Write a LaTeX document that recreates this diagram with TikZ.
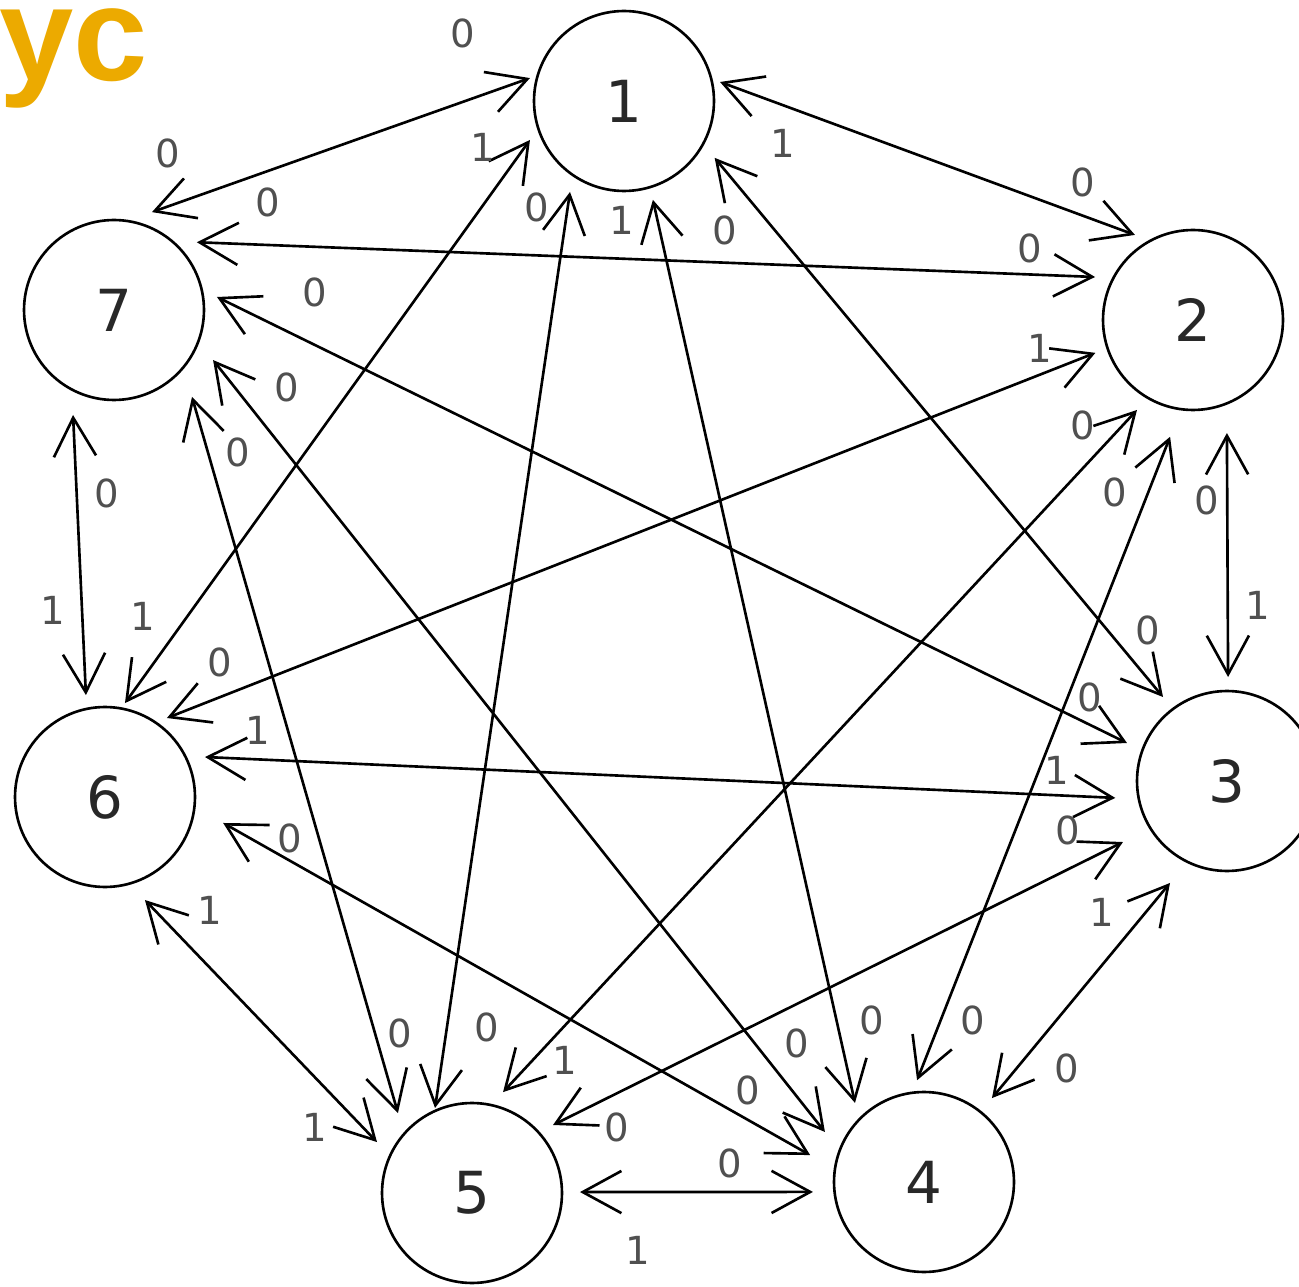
\documentclass[tikz,border=0pt]{standalone}
\usepackage{fontspec}
\setmainfont{DejaVu Sans}
\newfontfamily\titlefont{Liberation Sans}
\usetikzlibrary{arrows.meta,calc}
\definecolor{ttl}{RGB}{236,170,0}
\definecolor{lbl}{RGB}{80,80,80}
\definecolor{num}{RGB}{40,40,40}
\newcommand\edgeAB[6]{\draw[link] ($(#1)+(#2:#3)$) -- ($(#4)+(#5:#6)$);}
\begin{document}
\begin{tikzpicture}[x=0.02cm,y=0.02cm,
  state/.style={circle,draw=black,line width=1.5pt,minimum size=3.6cm,inner sep=0pt,
    font=\fontsize{33}{33}\selectfont,text=num},
  link/.style={line width=1.5pt,draw=black,
    {Straight Barb[length=22pt,width=24pt]}-{Straight Barb[length=22pt,width=24pt]}},
  lab/.style={font=\fontsize{22}{22}\selectfont,text=lbl,inner sep=0pt}]
\useasboundingbox (0,0) rectangle (1299,-1287);
\begin{scope}
\clip (0,0) rectangle (1299,-1287);
\fill[white] (0,0) rectangle (1299,-1287);
\node[anchor=base east,inner sep=0pt,text=ttl,font=\titlefont\bfseries\fontsize{76}{76}\selectfont] (title) at (148,-81) {cyc};

% states
\node[state] (n1) at (624,-101) {1};
\node[state] (n2) at (1193,-320) {2};
\node[state] (n3) at (1227,-781) {3};
\node[state] (n4) at (924,-1182) {4};
\node[state] (n5) at (472,-1193) {5};
\node[state] (n6) at (105,-797) {6};
\node[state] (n7) at (114,-310) {7};

% edges
\edgeAB{n1}{166.3}{96.8}{n7}{68.8}{105}
\edgeAB{n1}{202.5}{101.8}{n6}{78}{96}
\edgeAB{n1}{239.3}{105.8}{n5}{113.5}{92.7}
\edgeAB{n1}{286.3}{103}{n4}{131.1}{105}
\edgeAB{n1}{327.9}{107}{n3}{127.3}{105.6}
\edgeAB{n1}{11.2}{97.9}{n2}{124.3}{103}
\edgeAB{n2}{156.3}{107}{n7}{39.3}{107}
\edgeAB{n2}{198.6}{103}{n6}{51.9}{100.4}
\edgeAB{n2}{238.1}{106}{n5}{72.9}{105.6}
\edgeAB{n2}{258.9}{119}{n4}{93.9}{102}
\edgeAB{n2}{286.7}{118}{n3}{89.4}{104}
\edgeAB{n3}{159.2}{107}{n7}{7.2}{103.8}
\edgeAB{n3}{188.6}{113}{n6}{21.8}{107.7}
\edgeAB{n3}{210.4}{120.6}{n5}{40}{105.8}
\edgeAB{n3}{240.8}{116.8}{n4}{51}{108}
\edgeAB{n4}{153.2}{111}{n7}{333.2}{111}
\edgeAB{n4}{166.7}{117}{n6}{347.6}{121}
\edgeAB{n4}{185.1}{111.5}{n5}{0.5}{108}
\edgeAB{n5}{132.8}{109}{n7}{311.9}{116.8}
\edgeAB{n5}{151.8}{107.8}{n6}{291.2}{110.5}
\edgeAB{n6}{100.6}{103.7}{n7}{248.7}{112.7}

% labels
\node[lab] (l17a) at (463,-33) {0};
\node[lab] (l17b) at (168,-153) {0};
\node[lab] (l16a) at (483,-147) {1};
\node[lab] (l16b) at (143,-616) {1};
\node[lab] (l15a) at (537,-207) {0};
\node[lab] (l15b) at (487,-1027) {0};
\node[lab] (l14a) at (622,-220) {1};
\node[lab] (l14b) at (872,-1020) {0};
\node[lab] (l13a) at (725,-230) {0};
\node[lab] (l13b) at (1148,-630) {0};
\node[lab] (l12a) at (783,-143) {1};
\node[lab] (l12b) at (1083,-182) {0};
\node[lab] (l27a) at (1030,-248) {0};
\node[lab] (l27b) at (268,-202) {0};
\node[lab] (l26a) at (1040,-348) {1};
\node[lab] (l26b) at (220,-662) {0};
\node[lab] (l25a) at (1083,-425) {0};
\node[lab] (l25b) at (565,-1060) {1};
\node[lab] (l24a) at (1115,-492) {0};
\node[lab] (l24b) at (973,-1020) {0};
\node[lab] (l23a) at (1207,-500) {0};
\node[lab] (l23b) at (1258,-605) {1};
\node[lab] (l37a) at (1090,-697) {0};
\node[lab] (l37b) at (315,-292) {0};
\node[lab] (l36a) at (1057,-770) {1};
\node[lab] (l36b) at (258,-730) {1};
\node[lab] (l35a) at (1068,-830) {0};
\node[lab] (l35b) at (617,-1127) {0};
\node[lab] (l34a) at (1102,-912) {1};
\node[lab] (l34b) at (1067,-1068) {0};
\node[lab] (l47a) at (797,-1043) {0};
\node[lab] (l47b) at (287,-387) {0};
\node[lab] (l46a) at (748,-1090) {0};
\node[lab] (l46b) at (290,-838) {0};
\node[lab] (l45a) at (730,-1163) {0};
\node[lab] (l45b) at (638,-1250) {1};
\node[lab] (l57a) at (400,-1033) {0};
\node[lab] (l57b) at (238,-452) {0};
\node[lab] (l56a) at (315,-1127) {1};
\node[lab] (l56b) at (210,-910) {1};
\node[lab] (l67a) at (53,-610) {1};
\node[lab] (l67b) at (107,-493) {0};
\end{scope}
\end{tikzpicture}
\end{document}
